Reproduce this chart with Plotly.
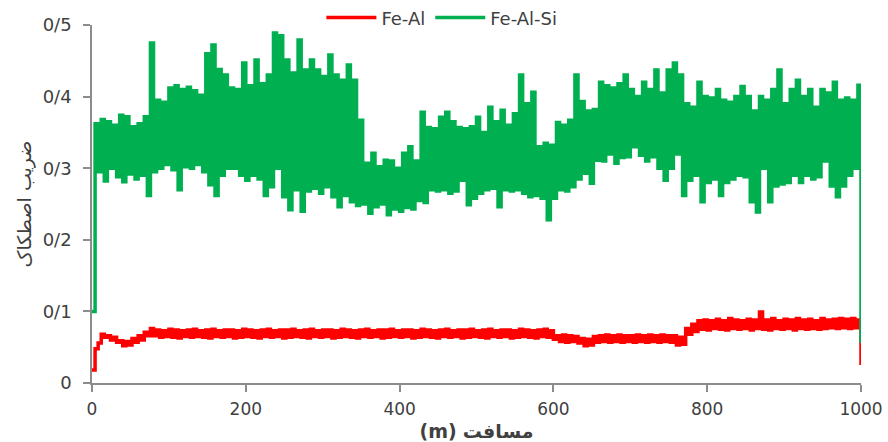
import numpy as np
import plotly.graph_objects as go

# Fe-Al-Si friction coefficient, every 4 m (alternating peaks / troughs)
fe_al_si = [0.100,
    0.362, 0.295, 0.368, 0.282, 0.365, 0.300, 0.360, 0.288, 0.374, 0.281,
    0.372, 0.292, 0.358, 0.285, 0.362, 0.290, 0.372, 0.262, 0.475, 0.295,
    0.395, 0.300, 0.392, 0.305, 0.412, 0.298, 0.415, 0.270, 0.410, 0.302,
    0.413, 0.300, 0.408, 0.305, 0.402, 0.295, 0.460, 0.277, 0.472, 0.262,
    0.438, 0.290, 0.430, 0.300, 0.412, 0.300, 0.410, 0.290, 0.447, 0.283,
    0.415, 0.290, 0.451, 0.285, 0.418, 0.262, 0.430, 0.274, 0.489, 0.300,
    0.485, 0.260, 0.451, 0.242, 0.433, 0.270, 0.479, 0.240, 0.437, 0.268,
    0.451, 0.272, 0.437, 0.265, 0.428, 0.274, 0.458, 0.260, 0.430, 0.246,
    0.423, 0.262, 0.444, 0.253, 0.423, 0.248, 0.367, 0.250, 0.307, 0.237,
    0.321, 0.246, 0.302, 0.250, 0.311, 0.235, 0.310, 0.243, 0.300, 0.240,
    0.321, 0.245, 0.330, 0.243, 0.310, 0.255, 0.378, 0.252, 0.357, 0.270,
    0.355, 0.268, 0.371, 0.270, 0.378, 0.265, 0.365, 0.268, 0.357, 0.283,
    0.355, 0.249, 0.358, 0.258, 0.371, 0.265, 0.350, 0.270, 0.385, 0.272,
    0.365, 0.246, 0.381, 0.270, 0.360, 0.268, 0.376, 0.270, 0.430, 0.265,
    0.390, 0.260, 0.406, 0.262, 0.330, 0.258, 0.335, 0.228, 0.332, 0.258,
    0.364, 0.270, 0.360, 0.268, 0.367, 0.274, 0.430, 0.285, 0.393, 0.293,
    0.380, 0.279, 0.382, 0.311, 0.420, 0.310, 0.415, 0.320, 0.412, 0.307,
    0.418, 0.315, 0.430, 0.316, 0.410, 0.330, 0.400, 0.318, 0.420, 0.310,
    0.410, 0.316, 0.437, 0.300, 0.405, 0.283, 0.437, 0.300, 0.447, 0.320,
    0.430, 0.262, 0.390, 0.283, 0.385, 0.290, 0.420, 0.253, 0.400, 0.280,
    0.398, 0.285, 0.410, 0.262, 0.395, 0.280, 0.392, 0.285, 0.400, 0.290,
    0.414, 0.288, 0.400, 0.253, 0.380, 0.239, 0.400, 0.300, 0.395, 0.253,
    0.410, 0.275, 0.437, 0.278, 0.390, 0.280, 0.410, 0.290, 0.423, 0.280,
    0.400, 0.290, 0.410, 0.285, 0.385, 0.288, 0.410, 0.310, 0.405, 0.275,
    0.420, 0.260, 0.395, 0.275, 0.398, 0.290, 0.395, 0.300,
    0.416, 0.056]

# Fe-Al friction coefficient, every 4 m
fe_al = [0.018,
    0.048, 0.056, 0.068, 0.064, 0.066, 0.060, 0.064, 0.057, 0.059, 0.052,
    0.058, 0.053, 0.062, 0.057, 0.066, 0.060, 0.071, 0.066, 0.076, 0.066,
    0.074, 0.064, 0.073, 0.065, 0.075, 0.064, 0.074, 0.063, 0.073, 0.065,
    0.074, 0.064, 0.075, 0.065, 0.073, 0.064, 0.074, 0.063, 0.075, 0.065,
    0.073, 0.064, 0.074, 0.065, 0.074, 0.063, 0.073, 0.064, 0.075, 0.065,
    0.074, 0.064, 0.073, 0.063, 0.074, 0.065, 0.075, 0.064, 0.073, 0.065,
    0.074, 0.063, 0.074, 0.064, 0.075, 0.065, 0.073, 0.064, 0.074, 0.063,
    0.075, 0.065, 0.073, 0.064, 0.074, 0.065, 0.074, 0.063, 0.073, 0.064,
    0.075, 0.065, 0.074, 0.064, 0.073, 0.063, 0.074, 0.065, 0.075, 0.064,
    0.073, 0.065, 0.074, 0.063, 0.074, 0.064, 0.075, 0.065, 0.073, 0.064,
    0.074, 0.065, 0.074, 0.063, 0.073, 0.064, 0.075, 0.065, 0.074, 0.064,
    0.073, 0.063, 0.074, 0.065, 0.075, 0.064, 0.073, 0.065, 0.074, 0.063,
    0.074, 0.064, 0.075, 0.065, 0.073, 0.064, 0.074, 0.063, 0.075, 0.065,
    0.073, 0.064, 0.074, 0.065, 0.074, 0.063, 0.073, 0.064, 0.075, 0.065,
    0.074, 0.064, 0.073, 0.063, 0.074, 0.065, 0.075, 0.064, 0.073, 0.061,
    0.066, 0.058, 0.067, 0.057, 0.066, 0.058, 0.065, 0.056, 0.062, 0.052,
    0.061, 0.053, 0.065, 0.057, 0.066, 0.058, 0.067, 0.057, 0.066, 0.058,
    0.067, 0.057, 0.066, 0.058, 0.066, 0.057, 0.067, 0.058, 0.066, 0.057,
    0.067, 0.058, 0.066, 0.057, 0.067, 0.058, 0.066, 0.057, 0.066, 0.053,
    0.064, 0.054,
    0.076, 0.068, 0.082, 0.072, 0.087, 0.075, 0.088, 0.074, 0.087, 0.076,
    0.089, 0.075, 0.087, 0.074, 0.090, 0.076, 0.088, 0.075, 0.087, 0.076,
    0.089, 0.074, 0.088, 0.076, 0.099, 0.075, 0.088, 0.074, 0.090, 0.076,
    0.087, 0.075, 0.089, 0.076, 0.088, 0.074, 0.090, 0.076, 0.088, 0.075,
    0.089, 0.076, 0.087, 0.075, 0.090, 0.076, 0.088, 0.077, 0.089, 0.076,
    0.090, 0.077, 0.089, 0.076, 0.090, 0.077,
    0.088, 0.025]

# sampling distance (m): readings are evenly spaced from 0 to 1000 m
dist_si = np.linspace(0, 1000, len(fe_al_si))
dist_al = np.linspace(0, 1000, len(fe_al))

y_ticks = [0, 0.1, 0.2, 0.3, 0.4, 0.5]
y_tick_labels = ["0", "0/1", "0/2", "0/3", "0/4", "0/5"]
x_ticks = [0, 200, 400, 600, 800, 1000]

FONT = "DejaVu Sans"
AXIS_GREY = "#8c8c8c"
TEXT_GREY = "#404040"

fig = go.Figure()
fig.add_trace(go.Scatter(x=dist_al, y=fe_al, mode="lines", name="Fe-Al",
                         line=dict(color="#ff0000", width=3.5, shape="hv", simplify=False)))
fig.add_trace(go.Scatter(x=dist_si, y=fe_al_si, mode="lines", name="Fe-Al-Si",
                         line=dict(color="#00b050", width=3.5, shape="hv", simplify=False)))

fig.update_layout(
    width=888, height=442,
    margin=dict(l=92, r=27, t=25, b=59, autoexpand=False),
    paper_bgcolor="white", plot_bgcolor="white",
    font=dict(family=FONT, size=17, color=TEXT_GREY),
    showlegend=True,
    legend=dict(orientation="h", x=0.455, xanchor="center", y=1.02, yanchor="middle",
                font=dict(size=18, color=TEXT_GREY), bgcolor="rgba(0,0,0,0)",
                itemwidth=50),
    xaxis=dict(range=[0, 1000], tickvals=x_ticks, showgrid=False, zeroline=False,
               showline=True, linecolor=AXIS_GREY, linewidth=1.5, automargin=False,
               ticks="outside", ticklen=7, tickcolor=AXIS_GREY, tickwidth=1.5,
               ticklabelstandoff=3,
               tickfont=dict(size=17, color=TEXT_GREY),
               title=dict(text="<b>(m)</b> <b>مسافت</b>", font=dict(size=19, color=TEXT_GREY), standoff=8)),
    yaxis=dict(range=[0, 0.5], tickvals=y_ticks, ticktext=y_tick_labels, showgrid=False,
               zeroline=False, showline=True, linecolor=AXIS_GREY, linewidth=1.5, automargin=False,
               ticks="outside", ticklen=7, tickcolor=AXIS_GREY, tickwidth=1.5,
               ticklabelstandoff=8,
               tickfont=dict(size=18, color=TEXT_GREY),
               title=dict(text="ضریب اصطکاک", font=dict(size=19, color=TEXT_GREY), standoff=6)),
)

# remove the browser's default page margin so the 888x442 figure fills the window
fig.write_html("out.html", config={"displayModeBar": False},
               post_script="document.body.style.margin='0';")
